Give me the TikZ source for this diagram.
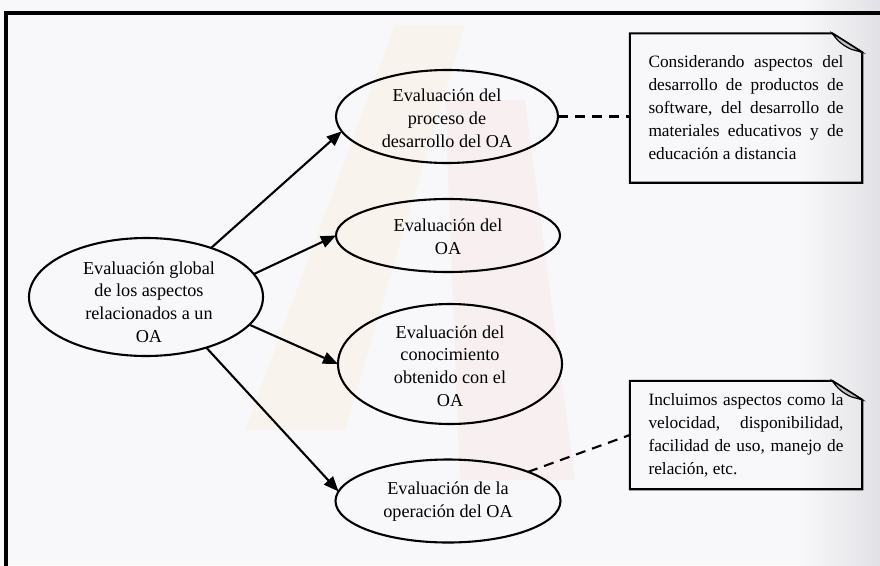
\documentclass[tikz,border=0pt]{standalone}
\usepackage{fontspec}
\setmainfont{Liberation Serif}
\usetikzlibrary{shapes.geometric,arrows.meta,calc}
\definecolor{bgc}{HTML}{F8F8FA}
\definecolor{peachc}{HTML}{FBEBD6}
\definecolor{pinkc}{HTML}{F7E2E2}
\definecolor{greyband}{HTML}{E2E2E6}
\definecolor{flapc}{HTML}{BDBDBD}
\begin{document}
\begin{tikzpicture}[x=1pt,y=-1pt,
  oval/.style={ellipse,draw=black,line width=2.1pt,inner sep=0pt,outer sep=0pt},
  lbl/.style={align=center,font=\fontsize{18.2}{22.8}\selectfont,inner sep=0pt},
  arr/.style={line width=2.1pt,-{Triangle[length=15pt,width=12pt]}},
  dsh/.style={line width=2.1pt,dash pattern=on 10pt off 7pt},
  notebox/.style={rectangle,inner xsep=18.5pt,inner ysep=0pt,text width=195pt,align=justify,
     font=\fontsize{17.3}{23}\selectfont,minimum width=232pt},
  noteline/.style={draw=black,line width=2.1pt},
  flap/.style={fill=flapc,draw=black,line width=1.2pt}
]
\useasboundingbox (0,0) rectangle (880,565);
\clip (0,0) rectangle (880,565);
% faint background watermark
\fill[bgc] (0,0) rectangle (880,565);
\shade[left color=bgc,right color=greyband] (800,0) rectangle (880,565);
\fill[peachc,opacity=0.35] (395,25) -- (465,25) -- (345,430) -- (245,430) -- cycle;
\fill[pinkc,opacity=0.4] (445,100) -- (525,100) -- (575,480) -- (460,480) -- cycle;
% frame
\draw[line width=3.2pt] (6,600) -- (6,13) -- (900,13);

% ellipses
\node[oval,minimum width=234pt,minimum height=118pt] (L) at (146,297) {};
\node[lbl] (Lt) at (149,302) {Evaluación global\\de los aspectos\\relacionados a un\\OA};

\node[oval,minimum width=222pt,minimum height=93pt] (E1) at (447,116.5) {};
\node[lbl] (E1t) at (447,118) {Evaluación del\\proceso de\\desarrollo del OA};

\node[oval,minimum width=224pt,minimum height=73pt] (E2) at (448,235.5) {};
\node[lbl] (E2t) at (448,237) {Evaluación del\\OA};

\node[oval,minimum width=224pt,minimum height=120pt] (E3) at (450,364) {};
\node[lbl] (E3t) at (450,366) {Evaluación del\\conocimiento\\obtenido con el\\OA};

\node[oval,minimum width=225pt,minimum height=83pt] (E4) at (448,501) {};
\node[lbl] (E4t) at (448,502) {Evaluación de la\\operación del OA};

% notes
\node[notebox,minimum height=149pt] (B1) at (746,108) {Considerando aspectos del desarrollo de productos de software, del desarrollo de materiales educativos y de educación a distancia};
\draw[noteline] (B1.south west) -- (B1.north west) -- ($(B1.north east)+(-30,0)$) -- ($(B1.north east)+(0,19)$) -- (B1.south east) -- cycle;
\draw[flap] ($(B1.north east)+(-30,0)$) to[bend right=15] ($(B1.north east)+(-11,16)$) -- ($(B1.north east)+(0,19)$) -- cycle;

\node[notebox,minimum height=108pt] (B2) at (746,435) {Incluimos aspectos como la velocidad, disponibilidad, facilidad de uso, manejo de relación, etc.};
\draw[noteline] (B2.south west) -- (B2.north west) -- ($(B2.north east)+(-30,0)$) -- ($(B2.north east)+(0,19)$) -- (B2.south east) -- cycle;
\draw[flap] ($(B2.north east)+(-30,0)$) to[bend right=15] ($(B2.north east)+(-11,16)$) -- ($(B2.north east)+(0,19)$) -- cycle;

% connectors
\draw[arr] (L.37) -- (E1.188);
\draw[arr] (L.12) -- (E2.west);
\draw[arr] (L.-15) -- (E3.west);
\draw[arr] (L.-40) -- (E4.175);
\draw[dsh] (E1.east) -- (E1.east -| B1.west);
\draw[dsh] (E4.20) -- (B2.west);
\end{tikzpicture}
\end{document}
